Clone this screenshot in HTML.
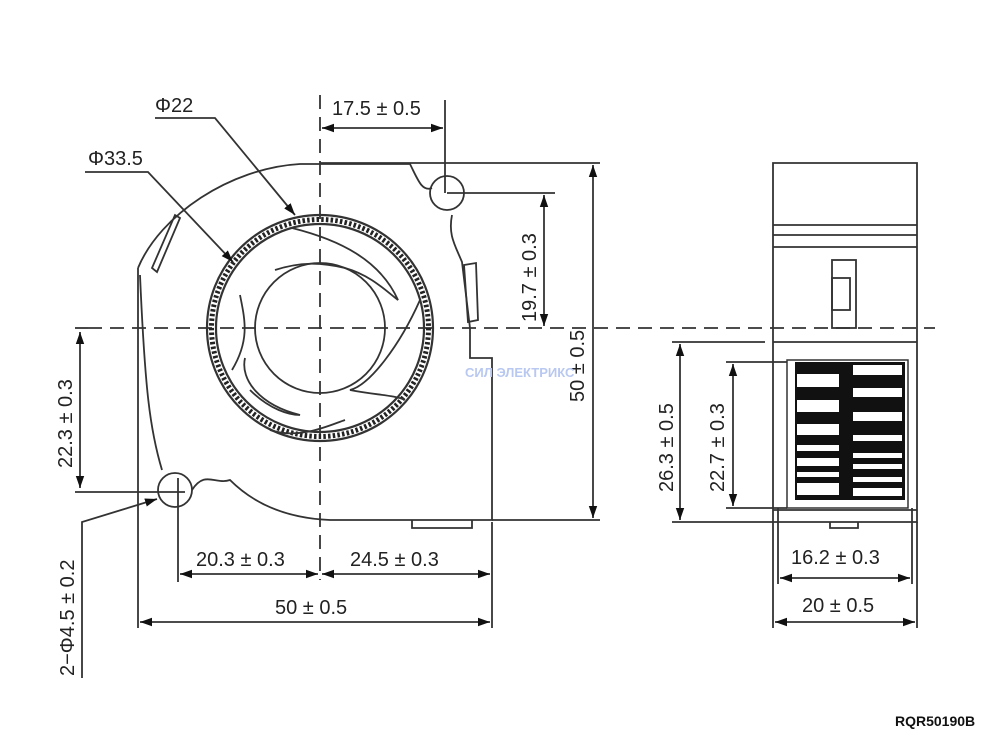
<!DOCTYPE html>
<html><head><style>
html,body{margin:0;padding:0;background:#fff;}
svg{display:block}
text{font-family:"Liberation Sans",sans-serif;font-size:20px;fill:#222}
</style></head><body>
<svg width="1000" height="753" viewBox="0 0 1000 753" xmlns="http://www.w3.org/2000/svg">
<defs>
<marker id="a" viewBox="0 0 10 10" refX="10" refY="5" markerWidth="12" markerHeight="12" markerUnits="userSpaceOnUse" orient="auto-start-reverse"><path d="M0,1.5 L10,5 L0,8.5z" fill="#111"/></marker>
</defs>
<g stroke="#333" stroke-width="1.8" fill="none">
<line x1="88" y1="328" x2="935" y2="328" stroke-dasharray="14,8"/>
<line x1="320" y1="95" x2="320" y2="580" stroke-dasharray="14,8"/>
<path d="M138,268 C160,215 230,168 300,164 L410,164 C418,180 422,192 432,188"/>
<path d="M138,268 L138,522"/>
<path d="M140,275 C145,390 150,430 162,470"/>
<path d="M192,490 C205,470 215,485 230,480 C250,500 280,518 330,520 L492,520 L492,358 L470,358 L470,328 L462,262 C455,245 448,235 452,215"/>
<circle cx="447" cy="193" r="17"/>
<circle cx="175" cy="490" r="17"/>
<path d="M152,268 L175,215 L180,218 L157,272z"/>
<path d="M464,265 L476,263 L478,320 L468,322z"/>
<path d="M412,520 L412,528 L472,528 L472,520"/>
<circle cx="320" cy="328" r="113" stroke-width="2.2"/>
<circle cx="320" cy="328" r="104" stroke-width="2.2"/>
<circle cx="320" cy="328" r="108.5" stroke-width="5" stroke-dasharray="2.5,2.2" stroke="#222"/>
<circle cx="320" cy="328" r="65"/>
<path d="M292,228 C340,240 380,260 398,300 C385,290 370,275 345,268 C320,262 300,262 275,270"/>
<path d="M420,300 C400,345 370,385 350,390 C375,395 395,395 405,400"/>
<path d="M245,358 C240,380 260,405 300,415 C290,415 270,410 250,390"/>
<path d="M240,295 C245,320 250,340 232,370"/>
<path d="M270,430 C300,440 330,425 345,420"/>
<path d="M773,163 L917,163 L917,522 L773,522z"/>
<line x1="773" y1="225" x2="917" y2="225"/>
<line x1="773" y1="235" x2="917" y2="235"/>
<line x1="773" y1="247" x2="917" y2="247"/>
<line x1="773" y1="342" x2="917" y2="342"/>
<line x1="742" y1="342" x2="765" y2="342"/>
<rect x="832" y="260" width="24" height="68"/>
<rect x="832" y="278" width="18" height="32"/>
<path d="M787,360 L908,360 L908,508 L787,508z" stroke-width="1.5"/>
<line x1="773" y1="510" x2="917" y2="510"/>
<path d="M830,522 L830,528 L858,528 L858,522"/>
<line x1="75" y1="328" x2="88" y2="328"/>
<line x1="75" y1="492" x2="185" y2="492"/>
<line x1="80" y1="332" x2="80" y2="488" marker-start="url(#a)" marker-end="url(#a)"/>
<path d="M82,678 L82,522 L157,499" marker-end="url(#a)"/>
<line x1="138" y1="522" x2="138" y2="628"/>
<line x1="178" y1="478" x2="178" y2="582"/>
<line x1="492" y1="522" x2="492" y2="628"/>
<line x1="180" y1="574" x2="318" y2="574" marker-start="url(#a)" marker-end="url(#a)"/>
<line x1="322" y1="574" x2="490" y2="574" marker-start="url(#a)" marker-end="url(#a)"/>
<line x1="140" y1="622" x2="490" y2="622" marker-start="url(#a)" marker-end="url(#a)"/>
<line x1="445" y1="100" x2="445" y2="193"/>
<line x1="322" y1="128" x2="443" y2="128" marker-start="url(#a)" marker-end="url(#a)"/>
<line x1="447" y1="193" x2="555" y2="193"/>
<line x1="320" y1="163" x2="600" y2="163"/>
<line x1="492" y1="520" x2="600" y2="520"/>
<line x1="544" y1="195" x2="544" y2="326" marker-start="url(#a)" marker-end="url(#a)"/>
<line x1="593" y1="165" x2="593" y2="518" marker-start="url(#a)" marker-end="url(#a)"/>
<path d="M155,118 L215,118 L295,215" marker-end="url(#a)"/>
<path d="M85,172 L148,172 L233,262" marker-end="url(#a)"/>
<line x1="672" y1="342" x2="742" y2="342"/>
<line x1="672" y1="522" x2="773" y2="522"/>
<line x1="726" y1="362" x2="787" y2="362"/>
<line x1="726" y1="508" x2="787" y2="508"/>
<line x1="680" y1="344" x2="680" y2="520" marker-start="url(#a)" marker-end="url(#a)"/>
<line x1="733" y1="364" x2="733" y2="506" marker-start="url(#a)" marker-end="url(#a)"/>
<line x1="773" y1="522" x2="773" y2="628"/>
<line x1="917" y1="522" x2="917" y2="628"/>
<line x1="778" y1="508" x2="778" y2="584"/>
<line x1="912" y1="508" x2="912" y2="584"/>
<line x1="780" y1="578" x2="910" y2="578" marker-start="url(#a)" marker-end="url(#a)"/>
<line x1="775" y1="622" x2="915" y2="622" marker-start="url(#a)" marker-end="url(#a)"/>
</g>
<rect x="795" y="362" width="110" height="138" fill="#111"/>
<g fill="#fff">
<rect x="853" y="365" width="49" height="10"/>
<rect x="797" y="374" width="42" height="13"/>
<rect x="853" y="388" width="49" height="9"/>
<rect x="797" y="400" width="42" height="12"/>
<rect x="853" y="412" width="49" height="9"/>
<rect x="797" y="424" width="42" height="11"/>
<rect x="853" y="435" width="49" height="6"/>
<rect x="797" y="445" width="42" height="6"/>
<rect x="853" y="453" width="49" height="5"/>
<rect x="797" y="458" width="42" height="8"/>
<rect x="853" y="464" width="49" height="5"/>
<rect x="797" y="472" width="42" height="5"/>
<rect x="853" y="477" width="49" height="5"/>
<rect x="797" y="483" width="42" height="12"/>
<rect x="853" y="488" width="49" height="8"/>
</g>
<text x="155" y="112">Φ22</text>
<text x="88" y="165">Φ33.5</text>
<text x="332" y="115">17.5 ± 0.5</text>
<text x="196" y="566">20.3 ± 0.3</text>
<text x="350" y="566">24.5 ± 0.3</text>
<text x="275" y="614">50 ± 0.5</text>
<text transform="translate(72,468) rotate(-90)">22.3 ± 0.3</text>
<text transform="translate(74,676) rotate(-90)">2−Φ4.5 ± 0.2</text>
<text transform="translate(536,322) rotate(-90)">19.7 ± 0.3</text>
<text transform="translate(584,402) rotate(-90)">50 ± 0.5</text>
<text transform="translate(673,492) rotate(-90)">26.3 ± 0.5</text>
<text transform="translate(724,492) rotate(-90)">22.7 ± 0.3</text>
<text x="791" y="564">16.2 ± 0.3</text>
<text x="802" y="612">20 ± 0.5</text>
<text x="895" y="726" style="font-size:14px;font-weight:bold;fill:#111">RQR50190B</text>
<text x="465" y="377" style="font-size:13px;font-weight:bold;fill:#b8c8f0">СИЛ ЭЛЕКТРИКС</text>
</svg>
</body></html>
